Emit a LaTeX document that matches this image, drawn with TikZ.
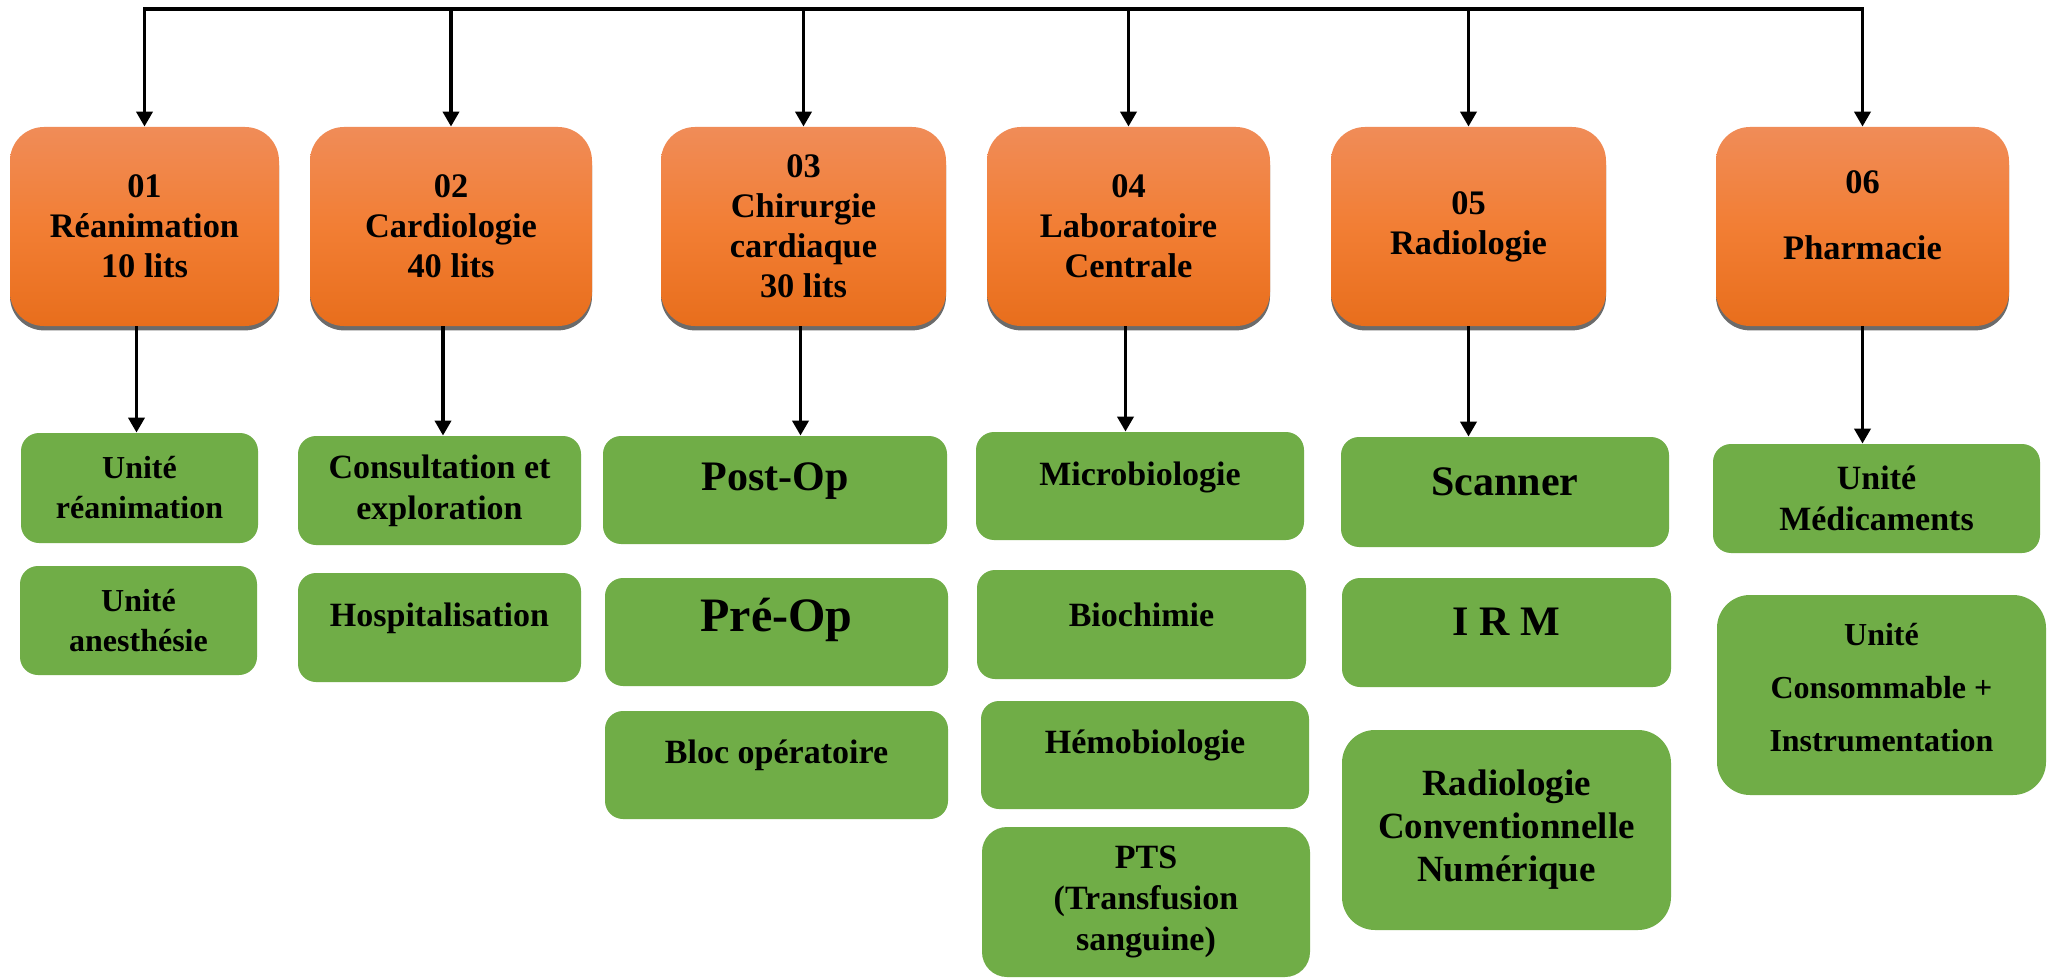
\documentclass[tikz,border=0pt]{standalone}
\usepackage{fontspec}
\setmainfont{Liberation Serif}
\usetikzlibrary{arrows.meta,fit,shadows}
\definecolor{orTop}{HTML}{F08C58}
\definecolor{orMid}{HTML}{F27E34}
\definecolor{orBot}{HTML}{E86E1C}
\definecolor{grn}{HTML}{70AD47}
\definecolor{shd}{HTML}{6B6B6B}
\begin{document}
\begin{tikzpicture}[x=0.5pt,y=-0.5pt,
  obox/.style={inner sep=0pt, rounded corners=17pt, top color=orTop, bottom color=orBot, middle color=orMid,
    drop shadow={shadow xshift=0pt, shadow yshift=-2.2pt, opacity=1, fill=shd}},
  gbox/.style={inner sep=0pt, rounded corners=9pt, fill=grn, draw=none},
  txt/.style={align=center, inner sep=0pt},
  fs/.style 2 args={font=\bfseries\fontsize{#1}{#2}\selectfont},
  conn/.style={line width=1.9pt, black},
  arr/.style={conn, -{Triangle[width=8pt,length=7.5pt]}},
]
\fill[white] (0,0) rectangle (2053,979);
\useasboundingbox (0,0) rectangle (2053,979);

% top boxes
\node[obox, fit={(10,127) (279,326)}] (b1) {};
\node[obox, fit={(310,127) (592,326)}] (b2) {};
\node[obox, fit={(661,127) (946,326)}] (b3) {};
\node[obox, fit={(987,127) (1270,326)}] (b4) {};
\node[obox, fit={(1331,127) (1606,326)}] (b5) {};
\node[obox, fit={(1716,127) (2009,326)}] (b6) {};

\node[txt, fs={17.2pt}{20pt}] (t1) at (b1.center) {01\\Réanimation\\10 lits};
\node[txt, fs={17.2pt}{20pt}] (t2) at (b2.center) {02\\Cardiologie\\40 lits};
\node[txt, fs={17.2pt}{20pt}] (t3) at (b3.center) {03\\Chirurgie\\cardiaque\\30 lits};
\node[txt, fs={17.2pt}{20pt}] (t4) at (b4.center) {04\\Laboratoire\\Centrale};
\node[txt, fs={17.2pt}{20pt}] (t5) at (b5.center) {05\\Radiologie};
\node[txt, fs={17.2pt}{20pt}] (t6) at ([yshift=5.75pt]b6.center) {06\\[13pt]Pharmacie};

% top connectors
\coordinate (top) at (0,9);
\draw[conn, line cap=rect] (b1.north |- top) -- (b6.north |- top);
\foreach \b in {b1,b2,b3,b4,b5,b6}{
  \draw[arr] (\b.north |- top) -- (\b.north);
}

% green boxes
\node[gbox, fit={(21,433) (258,543)}] (g11) {};
\node[gbox, fit={(20,566) (257,675)}] (g12) {};
\node[gbox, fit={(298,436) (581,545)}] (g21) {};
\node[gbox, fit={(298,573) (581,682)}] (g22) {};
\node[gbox, fit={(603,436) (947,544)}] (g31) {};
\node[gbox, fit={(605,578) (948,686)}] (g32) {};
\node[gbox, fit={(605,711) (948,819)}] (g33) {};
\node[gbox, fit={(976,432) (1304,540)}] (g41) {};
\node[gbox, fit={(977,570) (1306,679)}] (g42) {};
\node[gbox, fit={(981,701) (1309,809)}] (g43) {};
\node[gbox, rounded corners=12.5pt, fit={(982,827) (1310,977)}] (g44) {};
\node[gbox, fit={(1341,437) (1669,547)}] (g51) {};
\node[gbox, fit={(1342,578) (1671,687)}] (g52) {};
\node[gbox, rounded corners=16.5pt, fit={(1342,730) (1671,930)}] (g53) {};
\node[gbox, fit={(1713,444) (2040,553)}] (g61) {};
\node[gbox, rounded corners=16.5pt, fit={(1717,595) (2046,795)}] (g62) {};

% green texts
\node[txt, fs={16pt}{20pt}] (u11) at (g11.center) {Unité\\réanimation};
\node[txt, fs={16pt}{20pt}] (u12) at (g12.center) {Unité\\anesthésie};
\node[txt, fs={17pt}{20.5pt}] (u21) at (g21.center) {Consultation et\\exploration};
\node[txt, fs={17pt}{20.5pt}] (u22) at ([yshift=4.5pt]g22.center) {Hospitalisation};
\node[txt, fs={21pt}{25pt}] (u31) at ([yshift=4.5pt]g31.center) {Post-Op};
\node[txt, fs={24pt}{28pt}] (u32) at ([yshift=6pt]g32.center) {Pré-Op};
\node[txt, fs={17pt}{20.5pt}] (u33) at ([yshift=5pt]g33.center) {Bloc opératoire};
\node[txt, fs={17pt}{20.5pt}] (u41) at ([yshift=4.25pt]g41.center) {Microbiologie};
\node[txt, fs={17pt}{20.5pt}] (u42) at ([yshift=5pt]g42.center) {Biochimie};
\node[txt, fs={17pt}{20.5pt}] (u43) at ([yshift=5pt]g43.center) {Hémobiologie};
\node[txt, fs={17pt}{20.5pt}] (u44) at (g44.center) {PTS\\(Transfusion\\sanguine)};
\node[txt, fs={21pt}{25pt}] (u51) at ([yshift=5pt]g51.center) {Scanner};
\node[txt, fs={21pt}{25pt}] (u52) at ([yshift=5.5pt]g52.center) {I R M};
\node[txt, fs={18.5pt}{21.5pt}] (u53) at (g53.center) {Radiologie\\Conventionnelle\\Numérique};
\node[txt, fs={17pt}{20.5pt}] (u61) at (g61.center) {Unité\\Médicaments};
\node[txt, fs={16pt}{26.5pt}] (u62) at ([yshift=3.5pt]g62.center) {Unité\\Consommable +\\Instrumentation};

% lower connectors
\draw[arr] ([xshift=-4pt]b1.south) -- ([xshift=-4pt]b1.south |- g11.north);
\draw[arr] ([xshift=-4pt]b2.south) -- ([xshift=-4pt]b2.south |- g21.north);
\draw[arr] ([xshift=-1.5pt]b3.south) -- ([xshift=-1.5pt]b3.south |- g31.north);
\draw[arr] ([xshift=-1.5pt]b4.south) -- ([xshift=-1.5pt]b4.south |- g41.north);
\draw[arr] (b5.south) -- (b5.south |- g51.north);
\draw[arr] (b6.south) -- (b6.south |- g61.north);
\end{tikzpicture}
\end{document}
